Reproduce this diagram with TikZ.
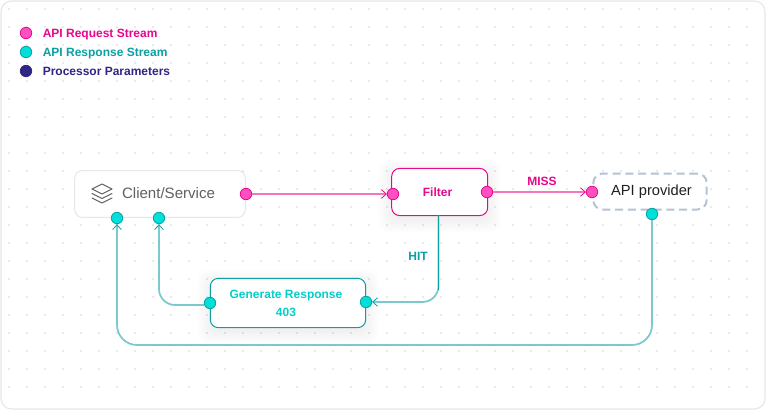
\documentclass[tikz,border=0pt]{standalone}
\usepackage{fontspec}
\setmainfont{Liberation Sans}
\usetikzlibrary{arrows.meta}
\definecolor{reqfill}{HTML}{FF4FC0}
\definecolor{reqline}{HTML}{E8068A}
\definecolor{respfill}{HTML}{00DFD8}
\definecolor{respline}{HTML}{0B9FA3}
\definecolor{parafill}{HTML}{2E2585}
\definecolor{cardline}{HTML}{E7E7E7}
\definecolor{griddot}{HTML}{E9E9E9}
\definecolor{dashline}{HTML}{B5C3D2}
\begin{document}
\begin{tikzpicture}[
    x=0.75pt, y=-0.75pt,
    font=\fontsize{9}{13.5}\selectfont,
    port/.style={circle, draw, line width=0.6pt, minimum size=8.6pt, inner sep=0pt},
    reqport/.style={port, draw=reqline, fill=reqfill},
    respport/.style={port, draw=respline, fill=respfill},
    paraport/.style={port, draw=parafill, fill=parafill},
    reqlink/.style={draw=reqline!55, line width=1.3pt, -{Straight Barb[length=3.6pt, width=6.4pt, line width=0.6pt, color=reqline]}},
    resplink/.style={draw=respline!55, line width=1.3pt, rounded corners=12pt, -{Straight Barb[length=3.6pt, width=6.4pt, line width=0.6pt, color=respline]}},
    tag/.style={inner sep=0pt, text height=6.5pt, text depth=0pt, font=\fontsize{9}{13.5}\selectfont\bfseries},
  ]

  % --- card and dotted grid --------------------------------------------
  \useasboundingbox (0,0) rectangle (766,410);
  \draw[cardline, line width=0.9pt, fill=white, rounded corners=8pt] (1,1) rectangle (765,409);
  \foreach \x in {0,...,41}{%
    \foreach \y in {0,...,21}{%
      \fill[griddot] (9+18*\x-0.9,9+18*\y-0.9) rectangle (9+18*\x+0.9,9+18*\y+0.9);
    }
  }

  % --- legend -----------------------------------------------------------
  \node[reqport] (legendreq) at (26,33) {};
  \node[respport] (legendresp) at (26,52) {};
  \node[paraport] (legendpara) at (26,71) {};
  \node[tag, text=reqline, anchor=west] (legendreqtext) at (42.5,33) {API Request Stream};
  \node[tag, text=respline, anchor=west] (legendresptext) at (42.5,52) {API Response Stream};
  \node[tag, text=parafill, anchor=west] (legendparatext) at (42.5,71) {Processor Parameters};

  % --- soft shadows of the two working boxes ------------------------------
  \foreach \xa/\ya/\xb/\yb in {391.7/168.3/487.7/215.7, 210.3/278.3/365.7/327.7}{%
    \foreach \s in {1,3,...,13}{%
      \fill[black, opacity=0.007, rounded corners=8pt]
        (\xa-\s,\ya+4-\s) rectangle (\xb+\s,\yb+4+\s);
    }
  }

  % --- boxes -------------------------------------------------------------
  \node[draw=cardline, line width=0.75pt, fill=white, rounded corners=6pt,
    minimum width=128pt, minimum height=35.2pt, inner sep=0pt] (client) at (160,194) {};
  \node[inner sep=0pt, text=black!62, font=\fontsize{11.3}{13}\selectfont,
    text height=8pt, text depth=2pt] (clientlabel) at (168.5,194) {Client/Service};
  \node[draw=reqline, line width=0.75pt, fill=white, rounded corners=6pt,
    minimum width=72pt, minimum height=35.4pt, inner sep=0pt] (filter) at (439.7,192) {};
  \node[tag, text=reqline] (filterlabel) at (437.5,192) {Filter};
  \node[draw=dashline, line width=1.5pt, dash pattern=on 6pt off 3.6pt, fill=white, rounded corners=7pt,
    minimum width=85pt, minimum height=27pt, inner sep=0pt] (provider) at (650,191.5) {};
  \node[inner sep=0pt, text=black!88, font=\fontsize{11}{13}\selectfont,
    text height=8pt, text depth=2pt] (providerlabel) at (651.5,191.5) {API provider};
  \node[draw=respline, line width=0.75pt, fill=white, rounded corners=6pt,
    minimum width=116.5pt, minimum height=37pt, inner sep=0pt,
    text=respfill!75!respline, align=center, font=\fontsize{9}{13.5}\selectfont\bfseries] (generate) at (288,303)
    {\hspace*{-3pt}Generate Response\\\hspace*{-3pt}403};

  % --- icon of the client ------------------------------------------------
  \draw[black!62, line width=0.8pt, line join=round, line cap=round]
    (102,184) -- (112,189) -- (102,194) -- (92,189) -- cycle
    (92,193.5) -- (102,198.5) -- (112,193.5)
    (92,198) -- (102,203) -- (112,198);

  % --- ports -------------------------------------------------------------
  \node[reqport] (clientout) at (246,194) {};
  \node[respport] (clientmain) at (117,218) {};
  \node[respport] (clientgen) at (159,218) {};
  \node[reqport] (filterin) at (393,194) {};
  \node[reqport] (filtermiss) at (487,192) {};
  \node[reqport] (providerin) at (592,192) {};
  \node[respport] (providerout) at (652,214) {};
  \node[respport] (generatein) at (366,302) {};
  \node[respport] (generateout) at (210,303) {};

  % --- turning points and free ends --------------------------------------
  \coordinate (filterhit) at (438.5,215.7);
  \coordinate (hitbend) at (438.5,290);
  \coordinate (generateleft) at (204,305);
  \coordinate (lowturn) at (400,345);

  % --- connectors ---------------------------------------------------------
  \draw[reqlink] (clientout) -- (filterin);
  \draw[reqlink] (filtermiss) -- (providerin);
  \draw[resplink] (filterhit) |- (generatein);
  \draw[draw=respline, line width=0.75pt] (filterhit) -- (hitbend);
  \draw[resplink] (generateleft) -| (clientgen);
  \draw[resplink, rounded corners=15pt] (providerout) |- (lowturn) -| (clientmain);

  % --- labels on the connectors -------------------------------------------
  \node[tag, text=reqline] (misslabel) at (542,181) {MISS};
  \node[tag, text=respline] (hitlabel) at (418,256.5) {HIT};

\end{tikzpicture}
\end{document}
